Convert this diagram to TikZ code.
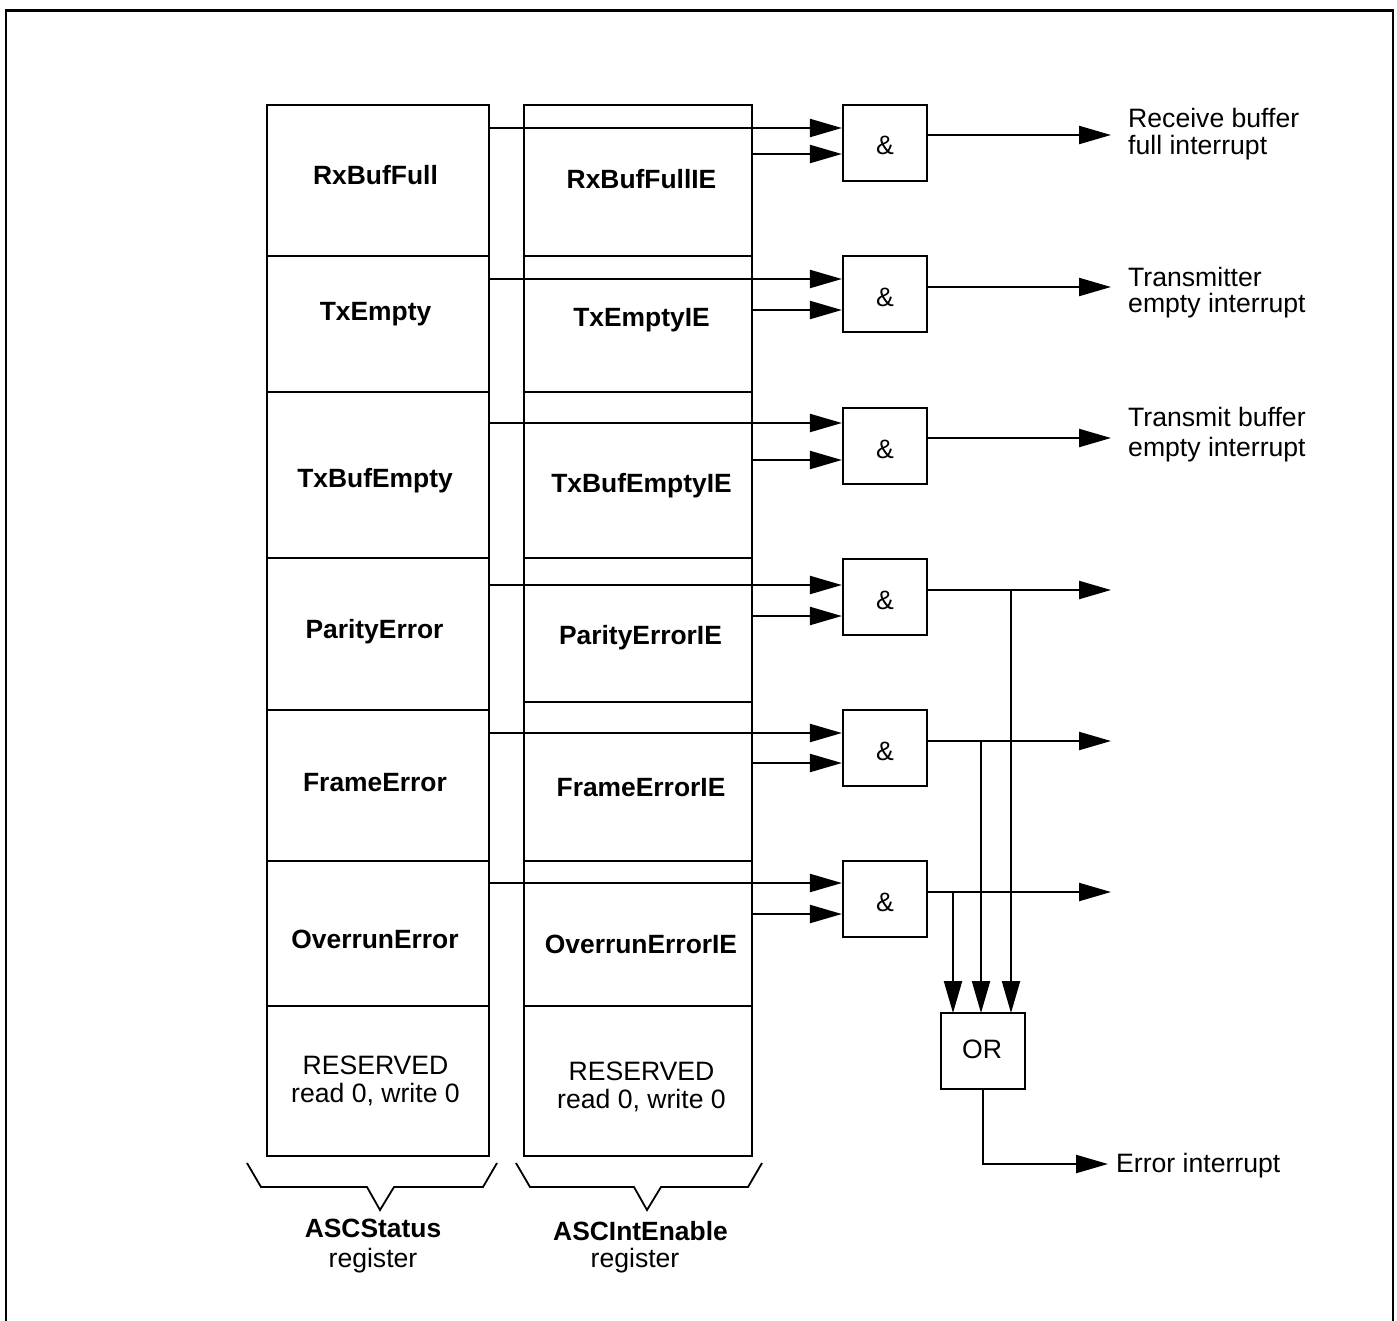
\documentclass[tikz,border=0pt]{standalone}
\usepackage{fontspec}
\setmainfont{Liberation Sans}
\usetikzlibrary{arrows.meta}
\tikzset{
 x=1pt,y=-1pt,
 line/.style={line width=2.2pt,draw=black},
 brace/.style={line width=1.8pt,draw=black},
 conn/.style={line width=2.2pt,draw=black,-{Triangle[length=32pt,width=18pt]}},
 gate/.style={draw=black,line width=2.2pt,minimum width=84pt,minimum height=76pt,inner sep=0pt},
 gatetxt/.style={inner sep=0pt,font=\fontsize{26.6}{28}\selectfont},
 reg/.style={inner sep=0pt,font=\fontsize{26.4}{28}\selectfont\bfseries,anchor=center},
 res/.style={inner sep=0pt,align=center,font=\fontsize{26.6}{28.5}\selectfont},
 lab/.style={inner sep=0pt,align=left,anchor=west,font=\fontsize{26.6}{26.5}\selectfont},
}
\begin{document}
\begin{tikzpicture}
\useasboundingbox (0,0) rectangle (1397,1320);
% frame
\draw[line] (6,1325) -- (6,10.5) -- (1393,10.5) -- (1393,1325);
% left register
\draw[line] (267,105) rectangle (489,1156);
\foreach \y in {256,392,558,710,861,1006}{\draw[line] (267,\y) -- (489,\y);}
% right register
\draw[line] (524,105) rectangle (752,1156);
\foreach \y in {256,392,558,702,861,1006}{\draw[line] (524,\y) -- (752,\y);}
% register labels
\node[reg] (s1) at (375.5,175) {RxBufFull};
\node[reg] (s2) at (375.5,314) {TxEmpty};
\node[reg] (s3) at (375,481) {TxBufEmpty};
\node[reg] (s4) at (374.5,632) {ParityError};
\node[reg] (s5) at (375,783) {FrameError};
\node[reg] (s6) at (375,939) {OverrunError};
\node[res] (s7) at (375.5,1081) {RESERVED\\read 0, write 0};
\node[reg] (e1) at (641.5,179) {RxBufFullIE};
\node[reg] (e2) at (641.5,320) {TxEmptyIE};
\node[reg] (e3) at (641.5,486) {TxBufEmptyIE};
\node[reg] (e4) at (640.5,638) {ParityErrorIE};
\node[reg] (e5) at (641,788) {FrameErrorIE};
\node[reg] (e6) at (641,944) {OverrunErrorIE};
\node[res] (e7) at (641.5,1087) {RESERVED\\read 0, write 0};
% gates
\node[gate] (g1) at (885,143) {};
\node[gate] (g2) at (885,294) {};
\node[gate] (g3) at (885,446) {};
\node[gate] (g4) at (885,597) {};
\node[gate] (g5) at (885,748) {};
\node[gate] (g6) at (885,899) {};
\node[gate] (org) at (983,1051) {};
\node[gatetxt] (t1) at (885,145) {\&};
\node[gatetxt] (t2) at (885,297) {\&};
\node[gatetxt] (t3) at (885,449) {\&};
\node[gatetxt] (t4) at (885,600) {\&};
\node[gatetxt] (t5) at (885,751) {\&};
\node[gatetxt] (t6) at (885,902) {\&};
\node[gatetxt] (t7) at (982,1049) {OR};
% inputs
\draw[conn] (489,128) -- (g1.west|-0,128);
\draw[conn] (752,154) -- (g1.west|-0,154);
\draw[conn] (489,279) -- (g2.west|-0,279);
\draw[conn] (752,310) -- (g2.west|-0,310);
\draw[conn] (489,423) -- (g3.west|-0,423);
\draw[conn] (752,460) -- (g3.west|-0,460);
\draw[conn] (489,585) -- (g4.west|-0,585);
\draw[conn] (752,616) -- (g4.west|-0,616);
\draw[conn] (489,733) -- (g5.west|-0,733);
\draw[conn] (752,763) -- (g5.west|-0,763);
\draw[conn] (489,883) -- (g6.west|-0,883);
\draw[conn] (752,914) -- (g6.west|-0,914);
% outputs
\coordinate (o1) at (1111,135);
\coordinate (o2) at (1111,287);
\coordinate (o3) at (1111,438);
\coordinate (o4) at (1111,590);
\coordinate (o5) at (1111,741);
\coordinate (o6) at (1111,892);
\draw[conn] (g1.east|-o1) -- (o1);
\draw[conn] (g2.east|-o2) -- (o2);
\draw[conn] (g3.east|-o3) -- (o3);
\draw[conn] (g4.east|-o4) -- (o4);
\draw[conn] (g5.east|-o5) -- (o5);
\draw[conn] (g6.east|-o6) -- (o6);
% to OR
\draw[conn] (953,892) -- (953,1013);
\draw[conn] (981,741) -- (981,1013);
\draw[conn] (1011,590) -- (1011,1013);
\node[lab] (err) at (1116,1166) {Error interrupt};
\coordinate (errtip) at (1108,1164);
\draw[conn] (org.south) |- (errtip);
% output labels
\node[lab] (l1) at (1128,134) {Receive buffer\\full interrupt};
\node[lab] (l2) at (1128,292.5) {Transmitter\\empty interrupt};
\node[lab] (l3) at (1128,435) {Transmit buffer\\[3.5pt]empty interrupt};
% braces
\draw[brace] (247,1163) -- (261,1187) -- (367,1187) -- (380,1210) -- (394,1187) -- (483,1187) -- (497,1163);
\draw[brace] (516,1163) -- (530,1187) -- (634,1187) -- (647,1210) -- (661,1187) -- (748,1187) -- (762,1163);
% register names
\node[reg] (n1) at (373,1228) {ASCStatus};
\node[res] (n1b) at (373,1261) {register};
\node[reg] (n2) at (640.5,1231) {ASCIntEnable};
\node[res] (n2b) at (635,1261) {register};
\end{tikzpicture}
\end{document}
